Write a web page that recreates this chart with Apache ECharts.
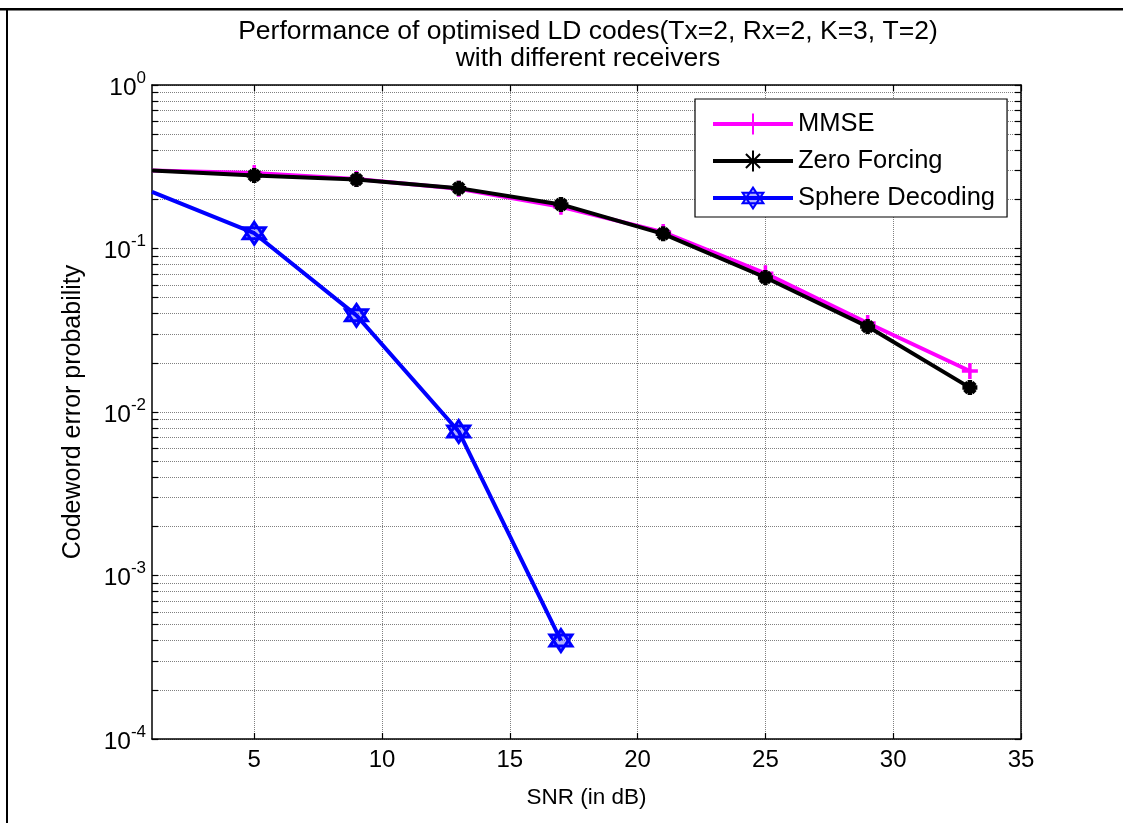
<!DOCTYPE html>
<html>
<head>
<meta charset="utf-8">
<title>Performance of optimised LD codes</title>
<script src="https://cdn.jsdelivr.net/npm/echarts@6/dist/echarts.min.js"></script>
<style>
  html, body { margin: 0; padding: 0; background: #fff; }
  #chart { width: 1123px; height: 823px; }
</style>
</head>
<body>
<div id="chart"></div>
<script>
// SNR points (dB) for the linear receivers
const snr = [1, 5, 9, 13, 17, 21, 25, 29, 33];
// Codeword error probability, MMSE receiver
const mmse = [0.30, 0.29, 0.266, 0.232, 0.180, 0.126, 0.0705, 0.0350, 0.0178];
// Codeword error probability, zero-forcing receiver
const zeroForcing = [0.30, 0.280, 0.264, 0.234, 0.186, 0.123, 0.0665, 0.0333, 0.0141];
// SNR points and error probability for sphere decoding
const snrSphere = [1, 5, 9, 13, 17];
const sphere = [0.222, 0.124, 0.039, 0.0076, 0.0004];
// Axis tick values
const xTicks = [5, 10, 15, 20, 25, 30, 35];
const yDecades = [1e-4, 1e-3, 1e-2, 1e-1, 1];

// Log-axis ticks at every 1..9 multiple of each decade
const yTicks = [];
for (let e = -4; e <= 0; e++) {
  for (let m = 1; m <= 9; m++) {
    if (e === 0 && m > 1) break;
    yTicks.push(Number((m * Math.pow(10, e)).toPrecision(3)));
  }
}

const pairs = (xs, ys) => xs.map((x, i) => [x, ys[i]]);

const FONT = 'Liberation Sans, Arial, sans-serif';
const gridLine = { show: true, lineStyle: { color: '#808080', type: 'dotted', width: 1 } };
const axisLine = { show: true, onZero: false, lineStyle: { color: '#000', width: 1.5 } };
const tickIn = { show: true, inside: true, length: 6, lineStyle: { color: '#000', width: 1.2 } };

const plusPath = 'path://M0,5L10,5M5,0L5,10';
const asteriskPath = 'path://M0,5L10,5M5,0L5,10M1.6,1.6L8.4,8.4M1.6,8.4L8.4,1.6';
const hexagramPath = 'path://M5,0L9.33,7.5L0.67,7.5Z M5,10L0.67,2.5L9.33,2.5Z';

const chart = echarts.init(document.getElementById('chart'), null, { renderer: 'canvas' });

chart.setOption({
  animation: false,
  backgroundColor: '#fff',
  textStyle: { fontFamily: FONT, color: '#000' },
  title: {
    text: 'Performance of optimised LD codes(Tx=2, Rx=2, K=3, T=2)\nwith different receivers',
    left: 583,
    textAlign: 'center',
    top: 13,
    textStyle: { fontFamily: FONT, fontSize: 26.5, fontWeight: 'normal', color: '#000', lineHeight: 27 }
  },
  graphic: [
    { type: 'rect', shape: { x: 0, y: 8, width: 1123, height: 2.5 }, style: { fill: '#000' }, silent: true },
    { type: 'rect', shape: { x: 6, y: 8, width: 2, height: 815 }, style: { fill: '#000' }, silent: true }
  ],
  legend: {
    orient: 'vertical',
    left: 695,
    top: 99,
    padding: [11, 12, 5, 16],
    itemWidth: 80,
    itemHeight: 26,
    itemGap: 9,
    backgroundColor: '#fff',
    borderColor: '#000',
    borderWidth: 1.2,
    borderRadius: 0,
    lineStyle: { width: 4 },
    textStyle: { fontFamily: FONT, fontSize: 25.5, color: '#000', lineHeight: 28 },
    data: ['MMSE', 'Zero Forcing', 'Sphere Decoding']
  },
  grid: { left: 152, right: 102, top: 85, bottom: 84, containLabel: false },
  xAxis: [
    {
      type: 'value', min: 1, max: 35, position: 'bottom',
      name: 'SNR (in dB)', nameLocation: 'middle', nameGap: 47,
      nameTextStyle: { fontFamily: FONT, fontSize: 22.5, color: '#000' },
      axisLine: axisLine,
      axisTick: Object.assign({ customValues: xTicks }, tickIn),
      axisLabel: { customValues: xTicks, margin: 9, fontFamily: FONT, fontSize: 24, color: '#000' },
      splitLine: gridLine
    },
    {
      type: 'value', min: 1, max: 35, position: 'top',
      axisLine: axisLine,
      axisTick: Object.assign({ customValues: xTicks }, tickIn),
      axisLabel: { show: false },
      splitLine: { show: false }
    }
  ],
  yAxis: [
    {
      type: 'log', logBase: 10, min: 1e-4, max: 1, position: 'left',
      name: 'Codeword error probability', nameLocation: 'middle', nameGap: 66, nameRotate: 90,
      nameTextStyle: { fontFamily: FONT, fontSize: 25, color: '#000' },
      axisLine: axisLine,
      axisTick: Object.assign({ customValues: yTicks }, tickIn),
      axisLabel: {
        customValues: yDecades,
        margin: 6,
        formatter: v => '{b|10}{e|' + Math.round(Math.log10(v)) + '}',
        rich: {
          b: { fontFamily: FONT, fontSize: 24.5, color: '#000', verticalAlign: 'bottom', padding: [6, 0, 0, 0] },
          e: { fontFamily: FONT, fontSize: 17, color: '#000', verticalAlign: 'top' }
        }
      },
      splitLine: gridLine
    },
    {
      type: 'log', logBase: 10, min: 1e-4, max: 1, position: 'right',
      axisLine: axisLine,
      axisTick: Object.assign({ customValues: yTicks }, tickIn),
      axisLabel: { show: false },
      splitLine: { show: false }
    }
  ],
  series: [
    {
      name: 'MMSE', type: 'line', xAxisIndex: 0, yAxisIndex: 0,
      data: pairs(snr, mmse),
      symbol: plusPath,
      symbolSize: (v, p) => (p.dataIndex === 0 ? 0 : 16),
      lineStyle: { color: '#ff00ff', width: 4 },
      itemStyle: { color: '#ff00ff', borderColor: '#ff00ff', borderWidth: 3.5 },
      z: 2
    },
    {
      name: 'Zero Forcing', type: 'line', xAxisIndex: 0, yAxisIndex: 0,
      data: pairs(snr, zeroForcing),
      symbol: asteriskPath,
      symbolSize: (v, p) => (p.dataIndex === 0 ? 0 : 15),
      lineStyle: { color: '#000', width: 4 },
      itemStyle: { color: '#000', borderColor: '#000', borderWidth: 4.5 },
      z: 3
    },
    {
      name: 'Sphere Decoding', type: 'line', xAxisIndex: 0, yAxisIndex: 0,
      data: pairs(snrSphere, sphere),
      symbol: hexagramPath,
      symbolSize: (v, p) => (p.dataIndex === 0 ? 0 : 22),
      lineStyle: { color: '#0000ff', width: 4 },
      itemStyle: { color: 'rgba(0,0,255,0.3)', borderColor: '#0000ff', borderWidth: 3 },
      z: 4
    }
  ]
});
</script>
</body>
</html>
